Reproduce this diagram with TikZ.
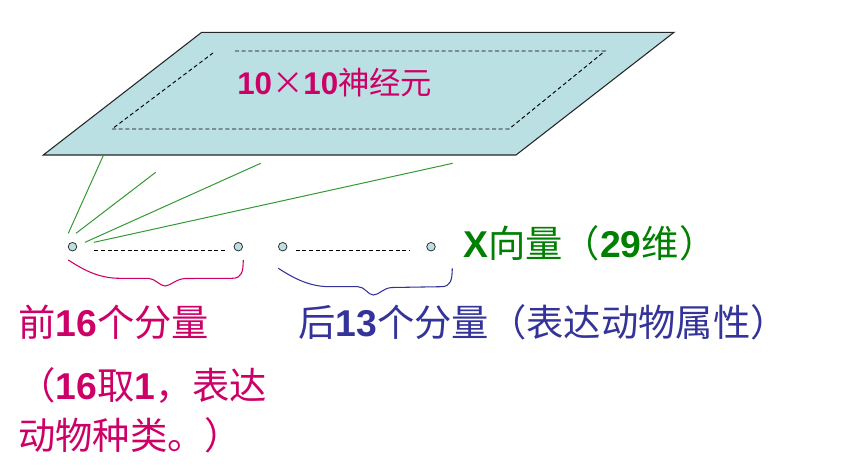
\documentclass[tikz,border=0pt]{standalone}
\usepackage{fontspec}
\setmainfont{Noto Sans CJK SC}
\newfontfamily\numfont{Liberation Sans}
\usepackage{xcolor}

\definecolor{planefill}{RGB}{187,224,227}
\definecolor{rosered}{RGB}{204,0,102}
\definecolor{deepblue}{RGB}{51,51,153}
\definecolor{darkgreen}{RGB}{0,128,0}
\definecolor{linkgreen}{RGB}{51,153,51}

\newcommand{\bnum}[1]{{\numfont\bfseries #1}}

\tikzset{
  plane/.style={draw=black!85, fill=planefill, line width=0.8pt},
  inner/.style={draw=black, line width=0.7pt, dash pattern=on 3pt off 2pt},
  unit/.style={circle, draw=black!80, fill=planefill, line width=0.6pt, inner sep=0pt, minimum size=6.4pt},
  link/.style={draw=linkgreen, line width=0.75pt},
  gap/.style={draw=black, line width=0.6pt, dash pattern=on 3pt off 2pt},
  label/.style={anchor=west, inner sep=0pt, font=\fontsize{28}{37.5}\selectfont},
}

\begin{document}
\begin{tikzpicture}[x=0.75pt,y=0.75pt,yscale=-1,xscale=1]
\useasboundingbox (0,0) rectangle (862,467);

%Shape: Parallelogram [plane of the map]
\draw [plane] (43.3,155) -- (201.7,32.3) -- (674,32.3) -- (516,155) -- cycle ;
%Shape: Dashed inner border
\draw [inner] (235,51) -- (605,51) -- (509,129) -- (112,129) -- (213,53) ;

% Text Node
\node [label, text=rosered, font=\fontsize{23.5}{28}\selectfont] (map) at (237,83) {\bnum{10}×\bnum{10}神经元};

%Input units
\node [unit] (u1) at (72.5,246.7) {};
\node [unit] (u2) at (238.3,246.7) {};
\node [unit] (u3) at (282.7,246.7) {};
\node [unit] (u4) at (431,246.7) {};

%Straight Lines [dotted gaps]
\coordinate (d1) at (94.3,250.7);
\coordinate (d2) at (225,250.7);
\coordinate (d3) at (295.7,250.7);
\coordinate (d4) at (409.3,250.7);
\draw [gap] (d1) -- (d2) ;
\draw [gap] (d3) -- (d4) ;

%Straight Lines [weights up to the map]
\coordinate (s1) at (68.3,233.3);
\coordinate (s2) at (76,233.3);
\coordinate (s3) at (85,242.3);
\coordinate (s4) at (94,242.3);
\coordinate (p1) at (103.3,155.5);
\coordinate (p2) at (155.7,172.3);
\coordinate (p3) at (260.7,163.3);
\coordinate (p4) at (452.7,163.3);
\draw [link] (s1) -- (p1) ;
\draw [link] (s2) -- (p2) ;
\draw [link] (s3) -- (p3) ;
\draw [link] (s4) -- (p4) ;

%Curve Lines [braces]
\coordinate (fl) at (68.3,260);
\coordinate (fr) at (243.3,260);
\draw [draw=rosered, line width=0.8pt] (fl) .. controls (85,271) and (100,278.3) .. (120,278.3) -- (148,278.3) .. controls (155,278.3) and (160,286) .. (165,286) .. controls (170,286) and (176,279) .. (185,278.5) -- (232,278.3) .. controls (242,278.3) and (243,272) .. (fr) ;
\coordinate (bl) at (278.3,268.3);
\coordinate (br) at (452.3,268.3);
\draw [draw=deepblue, line width=0.8pt] (bl) .. controls (295,279) and (310,286.7) .. (330,286.7) -- (358,286.7) .. controls (365,286.7) and (368,295) .. (373.3,295) .. controls (379,295) and (383,288) .. (392,287.5) -- (441,286.7) .. controls (451,286.7) and (452,280) .. (br) ;

% Text Node
\node [label, text=darkgreen] (vec) at (463,243) {\bnum{X}向量（\bnum{29}维）};
% Text Node
\node [label, text=rosered] (front) at (18,322) {前\bnum{16}个分量};
% Text Node
\node [label, text=deepblue] (back) at (298,322) {后\bnum{13}个分量（表达动物属性）};
% Text Node
\node [label, text=rosered, align=left] (kind) at (18,410) {（\bnum{16}取\bnum{1}，表达\\动物种类。）};

\end{tikzpicture}
\end{document}
